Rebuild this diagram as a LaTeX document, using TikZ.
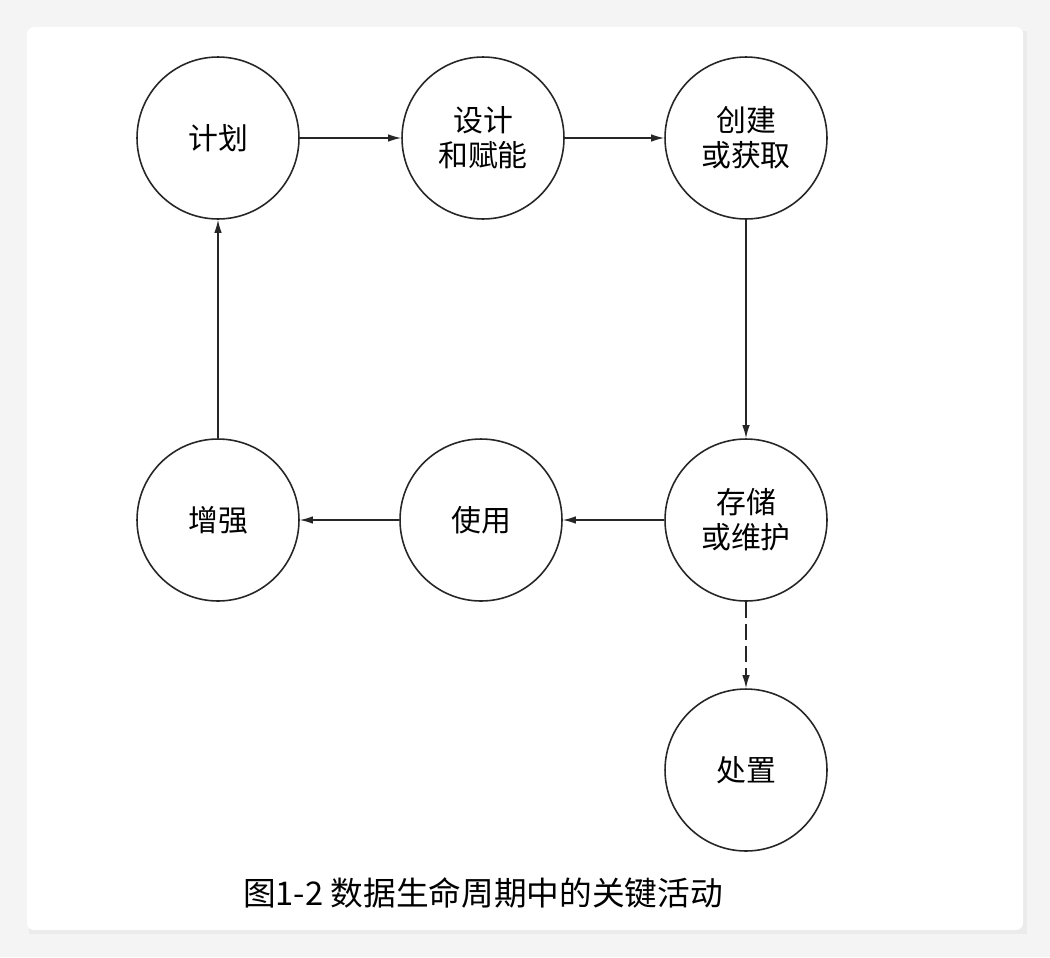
\documentclass[tikz,border=0pt]{standalone}
\usepackage{fontspec}
\setmainfont{Noto Sans CJK SC}
\usetikzlibrary{arrows.meta}
\usepackage{xcolor}

\begin{document}
\begin{tikzpicture}[>=Latex, x=0.02cm, y=-0.02cm,
  act/.style={circle, draw=black!85, line width=0.9pt, align=center, minimum size=3.24cm, inner sep=0pt, font=\fontsize{17}{20}\selectfont, fill=white},
  flow/.style={->, line width=0.75pt, draw=black!85, -{Latex[length=2.6mm, width=1.5mm]}},
  gone/.style={flow, dash pattern=on 0.32cm off 0.12cm}
]
% page and card
\fill[gray!9] (0,0) rectangle (1050,957);
\fill[gray!16] (29,31) rectangle (1027,934);
\fill[white, rounded corners=4pt] (27,27) rectangle (1023,930);
\useasboundingbox (0,0) rectangle (1050,957);
% activities
\node[act] (plan) at (218,138) {计划};
\node[act] (design) at (483,138) {设计\\和赋能};
\node[act] (create) at (746,138) {创建\\或获取};
\node[act] (store) at (746,520) {存储\\或维护};
\node[act] (use) at (481,520) {使用};
\node[act] (enhance) at (218,520) {增强};
\node[act] (dispose) at (746,770) {处置};
\draw[flow] (plan) -- (design);
\draw[flow] (design) -- (create);
\draw[flow] (create) -- (store);
\draw[flow] (store) -- (use);
\draw[flow] (use) -- (enhance);
\draw[flow] (enhance) -- (plan);
\draw[gone] (store) -- (dispose);
% caption
\node[font=\fontsize{18.6}{22}\selectfont] (cap) at (483,893) {图1-2 数据生命周期中的关键活动};
\end{tikzpicture}
\end{document}
